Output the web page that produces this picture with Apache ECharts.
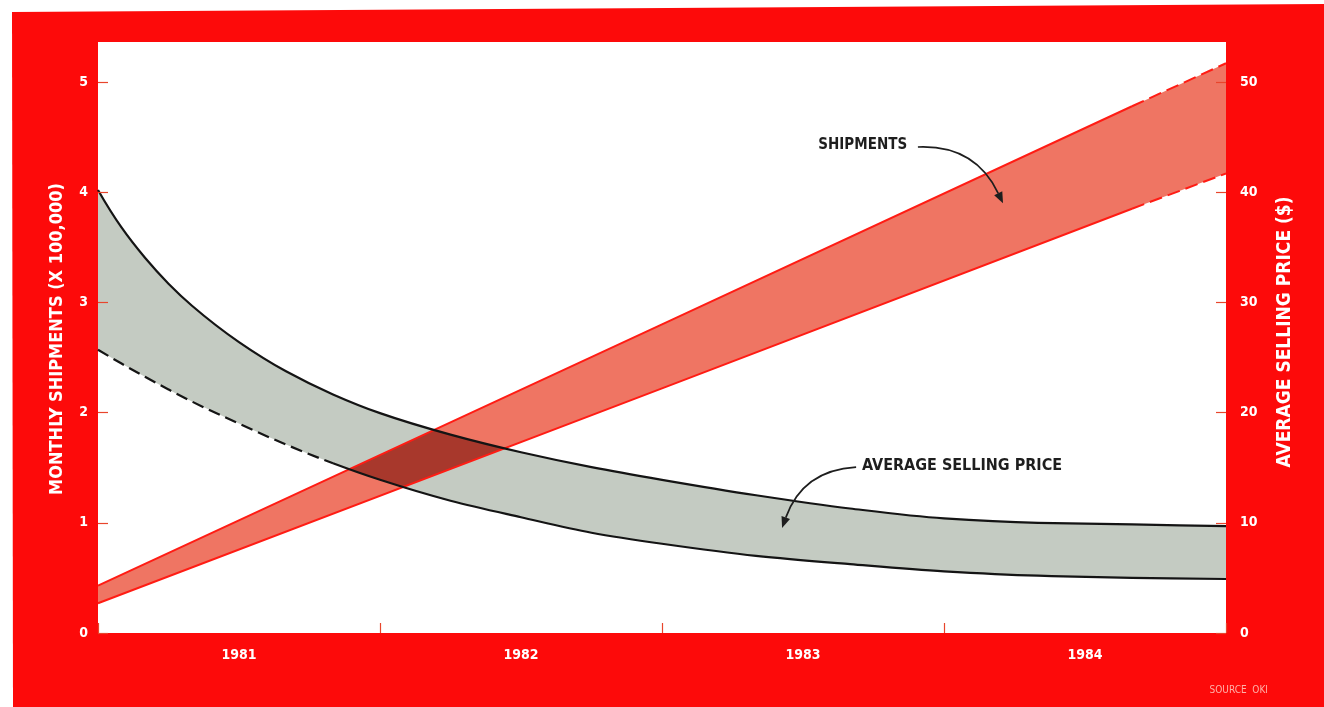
<!DOCTYPE html>
<html>
<head>
<meta charset="utf-8">
<script src="https://cdn.jsdelivr.net/npm/echarts@6/dist/echarts.min.js"></script>
<style>
  html, body { margin: 0; padding: 0; background: #ffffff; }
  #chart { width: 1324px; height: 707px; }
</style>
</head>
<body>
<div id="chart"></div>
<script>
// Years along the bottom (one band per year, 12 months each)
const yearLabels = ['1981', '1982', '1983', '1984'];

// Monthly shipments (x 100,000): high and low estimates, month 0 = start of 1981
const shipMonths = [0, 24, 44, 48];
const shipHigh   = [0.43, 2.80, 4.78, 5.17];
const shipLow    = [0.27, 2.22, 3.85, 4.17];
const shipDashFrom = 44;          // projection drawn dashed from this month on

// Average selling price ($): high and low estimates
const priceMonths = [0, 1, 2, 3, 4, 6, 8, 10, 12, 15, 18, 21, 24, 28, 32, 36, 40, 44, 48];
const priceHigh   = [40.2, 36.8, 34.05, 31.7, 29.7, 26.4, 23.75, 21.65, 19.95, 18.0, 16.4, 15.05, 13.9, 12.5, 11.3, 10.4, 10.0, 9.85, 9.7];
const priceLow    = [25.7, 24.45, 23.25, 22.1, 21.0, 19.0, 17.1, 15.4, 13.9, 12.0, 10.5, 9.1, 8.1, 7.0, 6.25, 5.6, 5.2, 5.0, 4.9];
const priceDashTo = 10;           // low price curve dashed up to this month

// Callouts: label anchor and arrow ends, in [month, shipments]
const shipNote  = { text: 'SHIPMENTS', at: [34.43, 4.43], from: [34.89, 4.41], to: [38.51, 3.90], bend: 0.3 };
const priceNote = { text: 'AVERAGE SELLING PRICE', at: [32.51, 1.52], from: [32.26, 1.506], to: [29.11, 0.953], bend: -0.3 };

const FONT = '"DejaVu Sans Condensed", "Liberation Sans Narrow", "DejaVu Sans", sans-serif';
const FRAME_RED = '#fd0a0a';
const TICK_RED = '#e8452c';
const SHIP_FILL = '#ef7563';
const SHIP_LINE = '#ff1c14';
const PRICE_FILL = '#c4cbc2';
const PRICE_LINE = '#141414';
const OVERLAP = '#a8382c';
const NOTE_INK = '#1e1e1e';

const pairs = (xs, ys) => xs.map((x, i) => [x, ys[i]]);
const shipHighPts = pairs(shipMonths, shipHigh);
const shipLowPts = pairs(shipMonths, shipLow);
const splitFrom = (pts, m) => pts.filter(p => p[0] >= m);
const splitTo = (pts, m) => pts.filter(p => p[0] <= m);

// Monotone cubic (Fritsch-Carlson) through pixel points; returns bezier segments
function monoSegments(p) {
  const n = p.length, d = [], t = new Array(n);
  for (let i = 0; i < n - 1; i++) d.push((p[i + 1][1] - p[i][1]) / (p[i + 1][0] - p[i][0]));
  for (let i = 1; i < n - 1; i++) {
    if (d[i - 1] * d[i] <= 0) { t[i] = 0; continue; }
    const h0 = p[i][0] - p[i - 1][0], h1 = p[i + 1][0] - p[i][0];
    const w1 = 2 * h1 + h0, w2 = h1 + 2 * h0;
    t[i] = (w1 + w2) / (w1 / d[i - 1] + w2 / d[i]);
  }
  const endSlope = (h0, h1, d0, d1) => {
    let s = ((2 * h0 + h1) * d0 - h0 * d1) / (h0 + h1);
    if (s * d0 <= 0) s = 0;
    else if (d0 * d1 <= 0 && Math.abs(s) > Math.abs(3 * d0)) s = 3 * d0;
    return s;
  };
  t[0] = endSlope(p[1][0] - p[0][0], p[2][0] - p[1][0], d[0], d[1]);
  t[n - 1] = endSlope(p[n - 1][0] - p[n - 2][0], p[n - 2][0] - p[n - 3][0], d[n - 2], d[n - 3]);
  const segs = [];
  for (let i = 0; i < n - 1; i++) {
    const h = (p[i + 1][0] - p[i][0]) / 3;
    segs.push([p[i], [p[i][0] + h, p[i][1] + t[i] * h], [p[i + 1][0] - h, p[i + 1][1] - t[i + 1] * h], p[i + 1]]);
  }
  return segs;
}
const pt = q => q[0].toFixed(2) + ',' + q[1].toFixed(2);
const forward = segs => segs.map(s => 'C' + pt(s[1]) + ' ' + pt(s[2]) + ' ' + pt(s[3])).join(' ');
const backward = segs => segs.slice().reverse().map(s => 'C' + pt(s[2]) + ' ' + pt(s[1]) + ' ' + pt(s[0])).join(' ');

function priceCurves(api) {
  const hi = priceMonths.map((m, i) => api.coord([m, priceHigh[i]]));
  const lo = priceMonths.map((m, i) => api.coord([m, priceLow[i]]));
  return { hi, lo, hiSegs: monoSegments(hi), loSegs: monoSegments(lo) };
}

// curved callout arrow: quadratic bend plus a filled head
function arrowEls(api, note) {
  const a = api.coord(note.from), b = api.coord(note.to);
  const c = note.bend;
  const cp = [(a[0] + b[0]) / 2 - (a[1] - b[1]) * c, (a[1] + b[1]) / 2 - (b[0] - a[0]) * c];
  const dx = b[0] - cp[0], dy = b[1] - cp[1];
  const len = Math.hypot(dx, dy), ux = dx / len, uy = dy / len;
  const headLen = 11, headHalf = 4.5;
  const base = [b[0] - ux * headLen, b[1] - uy * headLen];
  const head = [b, [base[0] - uy * headHalf, base[1] + ux * headHalf], [base[0] + uy * headHalf, base[1] - ux * headHalf]];
  const cpBase = [cp[0] - ux * headLen * 0.5, cp[1] - uy * headLen * 0.5];
  return [
    { type: 'path', shape: { pathData: 'M' + pt(a) + ' Q' + pt(cpBase) + ' ' + pt(base) },
      style: { fill: null, stroke: NOTE_INK, lineWidth: 1.7 } },
    { type: 'polygon', shape: { points: head }, style: { fill: NOTE_INK } }
  ];
}

const chart = echarts.init(document.getElementById('chart'), null, { renderer: 'canvas' });

chart.setOption({
  animation: false,
  backgroundColor: '#ffffff',
  title: {
    text: 'SOURCE  OKI',
    right: 56,
    bottom: 12,
    padding: 0,
    textStyle: { color: '#ffb0a8', fontSize: 10, fontWeight: 'normal', fontFamily: FONT }
  },
  graphic: {
    elements: [
      { type: 'polygon', z: 0, silent: true,
        shape: { points: [[12, 12], [1324, 4], [1324, 707], [13, 707]] },
        style: { fill: FRAME_RED } },
      { type: 'rect', z: 1, silent: true,
        shape: { x: 98, y: 42, width: 1128, height: 591 },
        style: { fill: '#ffffff' } }
    ]
  },
  grid: { left: 98, right: 98, top: 82, bottom: 74, outerBoundsMode: 'none', containLabel: false },
  xAxis: [
    { type: 'value', min: 0, max: 48, show: false },
    { type: 'category', data: yearLabels, position: 'bottom', zlevel: 2,
      boundaryGap: true,
      axisLine: { show: false },
      axisTick: { show: true, inside: true, length: 10, lineStyle: { color: TICK_RED, width: 1.2 } },
      axisLabel: { color: '#ffffff', fontSize: 14, fontWeight: 'bold', fontFamily: FONT, margin: 15, interval: 0 },
      splitLine: { show: false } }
  ],
  yAxis: [
    { type: 'value', min: 0, max: 5, interval: 1, position: 'left', zlevel: 2,
      name: 'MONTHLY SHIPMENTS (X 100,000)', nameLocation: 'middle', nameGap: 32, nameRotate: 90,
      nameTextStyle: { color: '#ffffff', fontSize: 18, fontWeight: 'bold', fontFamily: FONT, padding: [0, 0, 0, 37] },
      axisLine: { show: false },
      axisTick: { show: true, inside: true, length: 10, lineStyle: { color: TICK_RED, width: 1.2 } },
      axisLabel: { color: '#ffffff', fontSize: 14, fontWeight: 'bold', fontFamily: FONT, margin: 10 },
      splitLine: { show: false } },
    { type: 'value', min: 0, max: 50, interval: 10, position: 'right', zlevel: 2,
      name: 'AVERAGE SELLING PRICE ($)', nameLocation: 'middle', nameGap: 50, nameRotate: 90,
      nameTextStyle: { color: '#ffffff', fontSize: 19, fontWeight: 'bold', fontFamily: FONT, padding: [0, 0, 0, 51] },
      axisLine: { show: false },
      axisTick: { show: true, inside: true, length: 10, lineStyle: { color: TICK_RED, width: 1.2 } },
      axisLabel: { color: '#ffffff', fontSize: 14, fontWeight: 'bold', fontFamily: FONT, margin: 14 },
      splitLine: { show: false } }
  ],
  series: [
    // shipments band fill (bottom layer)
    { type: 'custom', name: 'shipBand', zlevel: 0, z: 2, xAxisIndex: 0, yAxisIndex: 0, clip: false, silent: true,
      data: [[0, 0]],
      renderItem: function (params, api) {
        const top = shipMonths.map((m, i) => api.coord([m, shipHigh[i]]));
        const bottom = shipMonths.map((m, i) => api.coord([m, shipLow[i]])).reverse();
        return { type: 'polygon', shape: { points: top.concat(bottom) }, style: { fill: SHIP_FILL } };
      } },

    // price band fill (upper layer)
    { type: 'custom', name: 'priceBand', zlevel: 1, z: 2, xAxisIndex: 0, yAxisIndex: 1, clip: false, silent: true,
      data: [[0, 0]],
      renderItem: function (params, api) {
        const c = priceCurves(api);
        const n = c.lo.length;
        const d = 'M' + pt(c.hi[0]) + ' ' + forward(c.hiSegs) + ' L' + pt(c.lo[n - 1]) + ' ' + backward(c.loSegs) + ' Z';
        return { type: 'path', shape: { pathData: d }, style: { fill: PRICE_FILL, stroke: null } };
      } },

    // where the two bands cross: shipments band painted only on top of the price band
    { type: 'custom', name: 'overlap', zlevel: 1, z: 3, xAxisIndex: 0, yAxisIndex: 0, clip: false, silent: true,
      data: [[0, 0]],
      renderItem: function (params, api) {
        const top = shipMonths.map((m, i) => api.coord([m, shipHigh[i]]));
        const bottom = shipMonths.map((m, i) => api.coord([m, shipLow[i]])).reverse();
        return {
          type: 'polygon', name: 'overlapBand',
          shape: { points: top.concat(bottom) },
          style: { fill: OVERLAP, blend: 'source-atop' }
        };
      } },

    // shipments edges
    { type: 'line', name: 'shipHigh', zlevel: 1, z: 4, yAxisIndex: 0, clip: false, silent: true,
      data: splitTo(shipHighPts, shipDashFrom), symbol: 'none',
      lineStyle: { color: SHIP_LINE, width: 2 },
      markPoint: {
        zlevel: 1, z: 6, silent: true, symbol: 'circle', symbolSize: 0,
        data: [
          { coord: shipNote.at, label: { show: true, position: 'left', distance: 0, formatter: shipNote.text,
              color: NOTE_INK, fontSize: 15, fontWeight: 'bold', fontFamily: FONT } },
          { coord: priceNote.at, label: { show: true, position: 'right', distance: 0, formatter: priceNote.text,
              color: NOTE_INK, fontSize: 16, fontWeight: 'bold', fontFamily: FONT } }
        ]
      } },
    { type: 'line', name: 'shipHighProj', zlevel: 1, z: 4, yAxisIndex: 0, clip: false, silent: true,
      data: splitFrom(shipHighPts, shipDashFrom), symbol: 'none',
      lineStyle: { color: SHIP_LINE, width: 2, type: [13, 6] } },
    { type: 'line', name: 'shipLow', zlevel: 1, z: 4, yAxisIndex: 0, clip: false, silent: true,
      data: splitTo(shipLowPts, shipDashFrom), symbol: 'none',
      lineStyle: { color: SHIP_LINE, width: 2 } },
    { type: 'line', name: 'shipLowProj', zlevel: 1, z: 4, yAxisIndex: 0, clip: false, silent: true,
      data: splitFrom(shipLowPts, shipDashFrom), symbol: 'none',
      lineStyle: { color: SHIP_LINE, width: 2, type: [13, 6] } },

    // price edges: high curve solid, low curve dashed early then solid
    { type: 'custom', name: 'priceEdges', zlevel: 1, z: 5, xAxisIndex: 0, yAxisIndex: 1, clip: false, silent: true,
      data: [[0, 0]],
      renderItem: function (params, api) {
        const c = priceCurves(api);
        const k = priceMonths.indexOf(priceDashTo);
        const stroke = { fill: null, stroke: PRICE_LINE, lineWidth: 2.2 };
        return {
          type: 'group',
          children: [
            { type: 'path', shape: { pathData: 'M' + pt(c.hi[0]) + ' ' + forward(c.hiSegs) }, style: stroke },
            { type: 'path', shape: { pathData: 'M' + pt(c.lo[0]) + ' ' + forward(c.loSegs.slice(0, k)) },
              style: Object.assign({}, stroke, { lineDash: [12, 6] }) },
            { type: 'path', shape: { pathData: 'M' + pt(c.lo[k]) + ' ' + forward(c.loSegs.slice(k)) }, style: stroke }
          ]
        };
      } },

    // callout arrows
    { type: 'custom', name: 'callouts', zlevel: 1, z: 6, xAxisIndex: 0, yAxisIndex: 0, clip: false, silent: true,
      data: [[0, 0]],
      renderItem: function (params, api) {
        return { type: 'group', children: arrowEls(api, shipNote).concat(arrowEls(api, priceNote)) };
      } }
  ]
});

// the crossing colour is composited onto the price band only
chart.getZr().storage.getDisplayList(true).forEach(el => {
  if (el.name === 'overlapBand') { el.style.blend = 'source-atop'; el.markRedraw(); }
});
chart.getZr().refreshImmediately();
</script>
</body>
</html>
